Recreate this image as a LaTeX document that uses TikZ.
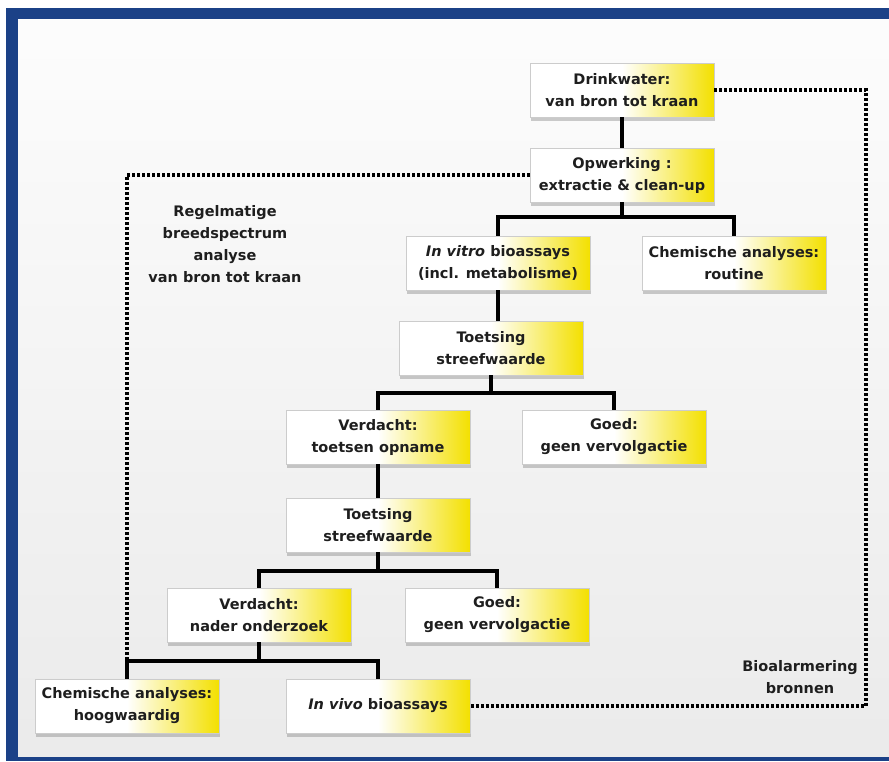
\documentclass[tikz,border=0pt]{standalone}
\usepackage{fontspec}
\setmainfont{DejaVu Sans}
\usetikzlibrary{positioning,shadows}
\definecolor{frameblue}{RGB}{27,65,135}
\definecolor{boxyellow}{RGB}{243,224,0}
\definecolor{inktext}{RGB}{30,30,30}
\begin{document}
\begin{tikzpicture}[x=1pt,y=-1pt,
    every node/.style={font=\bfseries\fontsize{14.5}{22}\selectfont,align=center,text=inktext},
    stepbox/.style={draw=gray!40,line width=0.4pt,left color=white,right color=boxyellow,middle color=white,
        minimum width=184pt,minimum height=54pt,inner sep=1pt,
        drop shadow={opacity=0.4,shadow xshift=1pt,shadow yshift=-3.5pt}},
    conn/.style={line width=3.4pt},
    dots/.style={line width=3.4pt,dash pattern=on 2.6pt off 2.4pt}]

    \useasboundingbox (0,0) rectangle (889,761);
    \fill[white] (0,0) rectangle (889,761);
    \fill[frameblue] (6,8) rectangle (889,761);
    \shade[top color=gray!2,bottom color=gray!16] (18,19) rectangle (889,756);

    \node[stepbox] (drink) at (622,90) {Drinkwater:\\van bron tot kraan};
    \node[stepbox] (opw) at (622,175) {Opwerking :\\extractie \& clean-up};
    \node[stepbox] (vitro) at (498,263) {\textit{In vitro} bioassays\\(incl. metabolisme)};
    \node[stepbox] (routine) at (734,263) {Chemische analyses:\\routine};
    \node[stepbox] (toets) at (491,348) {Toetsing\\streefwaarde};
    \node[stepbox] (opname) at (378,437) {Verdacht:\\toetsen opname};
    \node[stepbox] (goed) at (614,437) {Goed:\\geen vervolgactie};
    \node[stepbox] (toetstwo) at (378,525) {Toetsing\\streefwaarde};
    \node[stepbox] (nader) at (259,615) {Verdacht:\\nader onderzoek};
    \node[stepbox] (goedtwo) at (497,615) {Goed:\\geen vervolgactie};
    \node[stepbox] (hoog) at (127,706) {Chemische analyses:\\hoogwaardig};
    \node[stepbox] (invivo) at (378,706) {\textit{In vivo} bioassays};

    \node (regel) at (225,244) {Regelmatige\\breedspectrum\\analyse\\van bron tot kraan};
    \node (bioalarm) at (800,677) {Bioalarmering\\bronnen};

    % split points
    \coordinate (sa) at (622,217);
    \coordinate (sb) at (491,393);
    \coordinate (sc) at (378,571);
    \coordinate (sd) at (259,661);

    \draw[conn] (drink) -- (opw);
    \draw[conn] (opw) -- (sa) -| (vitro);
    \draw[conn] (sa) -| (routine);
    \draw[conn] (vitro) -- (vitro |- toets.north);
    \draw[conn] (toets) -- (sb) -| (opname);
    \draw[conn] (sb) -| (goed);
    \draw[conn] (opname) -- (toetstwo);
    \draw[conn] (toetstwo) -- (sc) -| (nader);
    \draw[conn] (sc) -| (goedtwo);
    \draw[conn] (nader) -- (sd) -| (hoog);
    \draw[conn] (sd) -| (invivo);

    % dotted loops
    \coordinate (ra) at (866,90);
    \coordinate (rb) at (866,706);
    \coordinate (la) at (127,175);
    \draw[dots] (drink) -- (ra) -- (rb) -- (invivo);
    \draw[dots] (opw) -- (la) -- (hoog |- sd);
\end{tikzpicture}
\end{document}
